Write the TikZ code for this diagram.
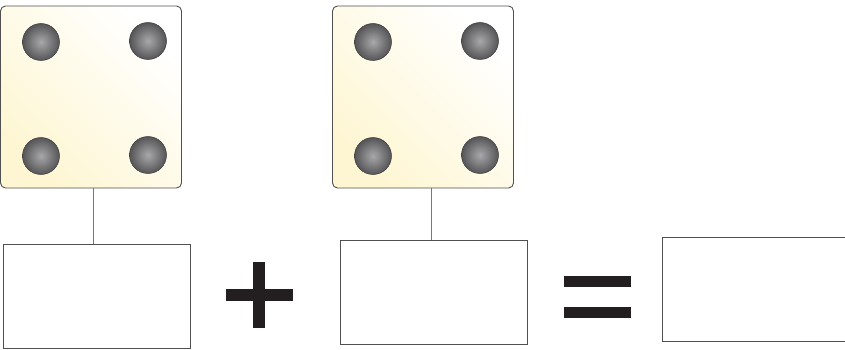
\documentclass[tikz,border=0pt]{standalone}
\usetikzlibrary{positioning}
\definecolor{diecream}{HTML}{FEF6D2}
\definecolor{dieedge}{HTML}{505050}
\definecolor{pipdark}{HTML}{555558}
\definecolor{piplight}{HTML}{A8A8AA}
\definecolor{linkgray}{HTML}{777777}
\definecolor{opblack}{HTML}{231F20}

\tikzset{
  die/.style={draw=dieedge, line width=0.9pt, rounded corners=5pt, inner sep=0pt,
    minimum width=181pt, minimum height=182pt,
    top color=white, bottom color=diecream, shading angle=-45},
  pip/.style={circle, draw=pipdark!70!black, line width=0.5pt, inner sep=0pt,
    minimum size=37pt, inner color=piplight, outer color=pipdark},
  answerbox/.style={draw=dieedge, line width=0.9pt, fill=white, inner sep=0pt,
    minimum width=187pt, minimum height=104pt},
  link/.style={draw=linkgray, line width=0.9pt},
  opbar/.style={fill=opblack, inner sep=0pt}
}

\begin{document}
\begin{tikzpicture}[x=1pt, y=-1pt]
  \clip (0,0) rectangle (845,350);

  % dice
  \node[die] (d1) at (91,97) {};
  \node[die] (d2) at (423,97) {};
  \foreach \dd in {d1,d2}
    \foreach \dx/\dy in {-50/-55, 57/-56, -50/59, 57/58}
      \node[pip] at ([shift={(\dx,\dy)}]\dd.center) {};

  % boxes
  \node[answerbox] (b1) at (97,296) {};
  \node[answerbox] (b2) at (434,292) {};
  \node[answerbox] (b3) at (756,289.5) {};

  \draw[link] ([xshift=2pt]d1.south) -- ([xshift=2pt]d1.south |- b1.north);
  \draw[link] ([xshift=8pt]d2.south) -- ([xshift=8pt]d2.south |- b2.north);

  % plus and equals
  \node[opbar, minimum width=67pt, minimum height=12pt] (plusH) at (259.5,295) {};
  \node[opbar, minimum width=12pt, minimum height=66pt] (plusV) at (259,295) {};
  \node[opbar, minimum width=67pt, minimum height=11pt] (eqTop) at (597.5,281.5) {};
  \node[opbar, minimum width=67pt, minimum height=11pt] (eqBot) at (597.5,312.5) {};
\end{tikzpicture}
\end{document}
